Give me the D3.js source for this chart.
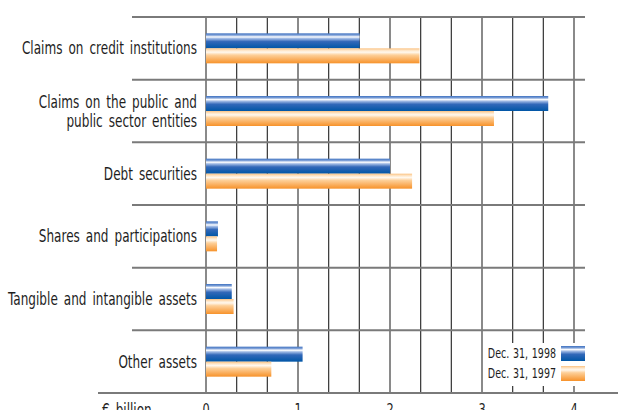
<!DOCTYPE html>
<html>
<head>
<meta charset="utf-8">
<script src="https://cdn.jsdelivr.net/npm/d3@7"></script>
<style>
  body { margin: 0; background: #fff; }
  svg text { font-family: "DejaVu Sans", sans-serif; fill: #1e1e1e; }
</style>
</head>
<body>
<div id="chart"></div>
<script>
// data (€ billion)
var categories = [
  "Claims on credit institutions",
  "Claims on the public and|public sector entities",
  "Debt securities",
  "Shares and participations",
  "Tangible and intangible assets",
  "Other assets"
];
var values1998 = [1.67, 3.72, 2.0, 0.13, 0.28, 1.05];
var values1997 = [2.32, 3.13, 2.24, 0.12, 0.30, 0.71];
var seriesNames = ["Dec. 31, 1998", "Dec. 31, 1997"];
var tickValues = [0, 1, 2, 3, 4];

var svgWidth = 618;
var svgHeight = 410;
var squeeze = 0.71; // the original face is a narrow one

var svg = d3.select("#chart")
  .append("svg")
  .attr("width", svgWidth)
  .attr("height", svgHeight);

// narrow text helper
function narrowText(g, tx, ty, str, size, anchor) {
  return g.append("text")
    .attr("transform", `translate(${tx}, ${ty}) scale(${squeeze}, 1)`)
    .attr("text-anchor", anchor)
    .attr("font-size", size)
    .attr("word-spacing", 3)
    .text(str);
}

// gradients for the bars
var defs = svg.append("defs");
var blue = defs.append("linearGradient").attr("id", "gBlue")
  .attr("x1", 0).attr("y1", 0).attr("x2", 0).attr("y2", 1);
[["0%", "#3f72c0"], ["12%", "#7a9dd6"], ["24%", "#ffffff"], ["34%", "#a3bce6"],
 ["55%", "#3268b9"], ["100%", "#0056a6"]].forEach(function(s) {
  blue.append("stop").attr("offset", s[0]).attr("stop-color", s[1]);
});
var orange = defs.append("linearGradient").attr("id", "gOrange")
  .attr("x1", 0).attr("y1", 0).attr("x2", 0).attr("y2", 1);
[["0%", "#fbc282"], ["14%", "#fee6c8"], ["26%", "#fff8ee"], ["45%", "#fdcf98"],
 ["100%", "#f7922a"]].forEach(function(s) {
  orange.append("stop").attr("offset", s[0]).attr("stop-color", s[1]);
});

// scales
var x = d3.scaleLinear().domain([0, 4]).range([206, 574]);
var y = d3.scaleBand().domain(categories).range([17, 393]).paddingInner(0).paddingOuter(0);
var barH = 15;

// vertical grid lines every third of a unit
var gridVals = d3.range(0, 13).map(function(i) { return i / 3; });
svg.append("g").selectAll("line")
  .data(gridVals)
  .enter()
  .append("line")
  .attr("x1", d => x(d)).attr("x2", d => x(d))
  .attr("y1", 17).attr("y2", 393)
  .attr("stroke", (d, i) => i % 3 === 0 ? "#8a8a8a" : "#333")
  .attr("stroke-width", (d, i) => i % 3 === 0 ? 2 : 1.2);

// horizontal separators between categories
var seps = categories.map(c => y(c));
svg.append("g").selectAll("line")
  .data(seps)
  .enter()
  .append("line")
  .attr("x1", 132).attr("x2", 585)
  .attr("y1", d => d).attr("y2", d => d)
  .attr("stroke", "#7a7a7a")
  .attr("stroke-width", 2);

// bars
var barsG = svg.append("g");
barsG.selectAll(".b98")
  .data(categories)
  .enter()
  .append("rect")
  .attr("x", x(0))
  .attr("y", d => y(d) + y.bandwidth() / 2 - barH)
  .attr("width", (d, i) => x(values1998[i]) - x(0))
  .attr("height", barH)
  .attr("fill", "url(#gBlue)");
barsG.selectAll(".b97")
  .data(categories)
  .enter()
  .append("rect")
  .attr("x", x(0))
  .attr("y", d => y(d) + y.bandwidth() / 2)
  .attr("width", (d, i) => x(values1997[i]) - x(0))
  .attr("height", barH)
  .attr("fill", "url(#gOrange)");

// category labels
var labG = svg.append("g");
categories.forEach(function(c) {
  var lines = c.split("|");
  var cy = y(c) + y.bandwidth() / 2;
  lines.forEach(function(l, j) {
    narrowText(labG, 197, cy + 6 + (j - (lines.length - 1) / 2) * 19, l, 17, "end");
  });
});

// bottom axis line
svg.append("line")
  .attr("x1", 98).attr("x2", 618)
  .attr("y1", 393).attr("y2", 393)
  .attr("stroke", "#7a7a7a").attr("stroke-width", 2);

// tick labels
var tickG = svg.append("g");
tickValues.forEach(function(t) {
  narrowText(tickG, x(t), 415, t, 16, "middle");
});
narrowText(svg, 102, 416, "€ billion", 17, "start");

// legend
var leg = svg.append("g");
leg.append("rect")
  .attr("x", 485).attr("y", 343)
  .attr("width", 100).attr("height", 43)
  .attr("fill", "#fff");
var legFills = ["url(#gBlue)", "url(#gOrange)"];
seriesNames.forEach(function(n, i) {
  leg.append("rect")
    .attr("x", 561).attr("y", 346 + i * 20)
    .attr("width", 24).attr("height", 15)
    .attr("fill", legFills[i]);
  narrowText(leg, 556, 358 + i * 20, n, 13.4, "end").attr("word-spacing", 1);
});
</script>
</body>
</html>
